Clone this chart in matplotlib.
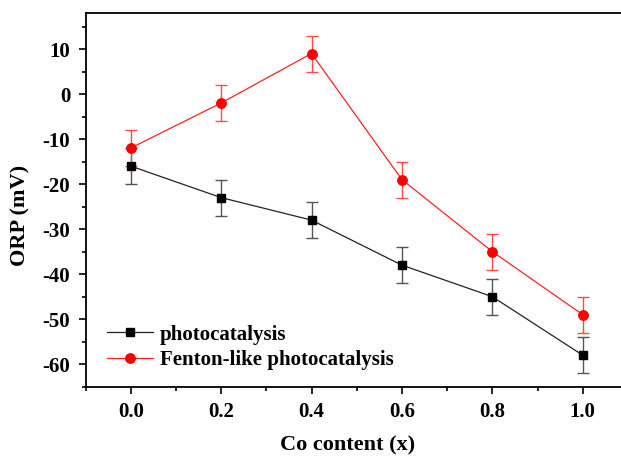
import matplotlib
matplotlib.use("Agg")
import matplotlib.pyplot as plt
from matplotlib.ticker import MultipleLocator

x = [0.0, 0.2, 0.4, 0.6, 0.8, 1.0]
photo = [-16, -23, -28, -38, -45, -58]
photo_err = [4, 4, 4, 4, 4, 4]
fenton = [-12, -2, 9, -19, -35, -49]
fenton_err = [4, 4, 4, 4, 4, 4]

plt.rcParams['font.family'] = ['Liberation Serif', 'DejaVu Serif']
plt.rcParams['font.weight'] = 'bold'
plt.rcParams['axes.unicode_minus'] = False

fig = plt.figure(figsize=(6.21, 4.57), dpi=100)
ax = fig.add_axes([85.5/621, 1-386.7/457, (640-85.5)/621, (386.7-13)/457])

ax.errorbar(x, photo, yerr=photo_err, color='#222222', lw=0.9, marker='s', ms=6,
            mfc='black', mec='black', ecolor='#555555', elinewidth=1, capsize=4.3, capthick=1,
            label='photocatalysis')
ax.errorbar(x, fenton, yerr=fenton_err, color='#ff2020', lw=0.9, marker='o', ms=6.8,
            mfc='#ff0000', mec='#ff0000', ecolor='#ff4a4a', elinewidth=1, capsize=4.3, capthick=1,
            label='Fenton-like photocatalysis')

ax.set_xlim(-0.1, 1.0 + (640 - 582.7) / 452.0)
ax.set_ylim(-65, 18)
ax.xaxis.set_major_locator(MultipleLocator(0.2))
ax.xaxis.set_minor_locator(MultipleLocator(0.1))
ax.yaxis.set_major_locator(MultipleLocator(10))
ax.yaxis.set_minor_locator(MultipleLocator(5))
ax.tick_params(which='major', direction='out', length=5, width=1.2, labelsize=15, pad=6)
ax.tick_params(which='minor', direction='out', length=3, width=1.2)
ax.set_xticks(x)
ax.set_xticklabels(['0.0', '0.2', '0.4', '0.6', '0.8', '1.0'])
for s in ax.spines.values():
    s.set_linewidth(1.3)
ax.spines['right'].set_visible(False)

ax.set_xlabel('Co content (x)', fontsize=16, fontweight='bold', labelpad=10)
ax.xaxis.label.set_x((347.5 - 85.5) / 554.5)
ax.set_ylabel('ORP (mV)', fontsize=16, fontweight='bold')
ax.yaxis.set_label_coords(-0.102 * 542.5 / 554.5, 0.459)

handles, labels = ax.get_legend_handles_labels()
handles = [h[0] for h in handles]
ax.legend(handles, labels, loc='lower left', bbox_to_anchor=(-0.007 * 542.5 / 554.5, -0.022),
          frameon=False, fontsize=15, handlelength=2.2, handletextpad=0.34,
          borderaxespad=0.8, labelspacing=0.25)

fig.savefig('out.png', dpi=100)
